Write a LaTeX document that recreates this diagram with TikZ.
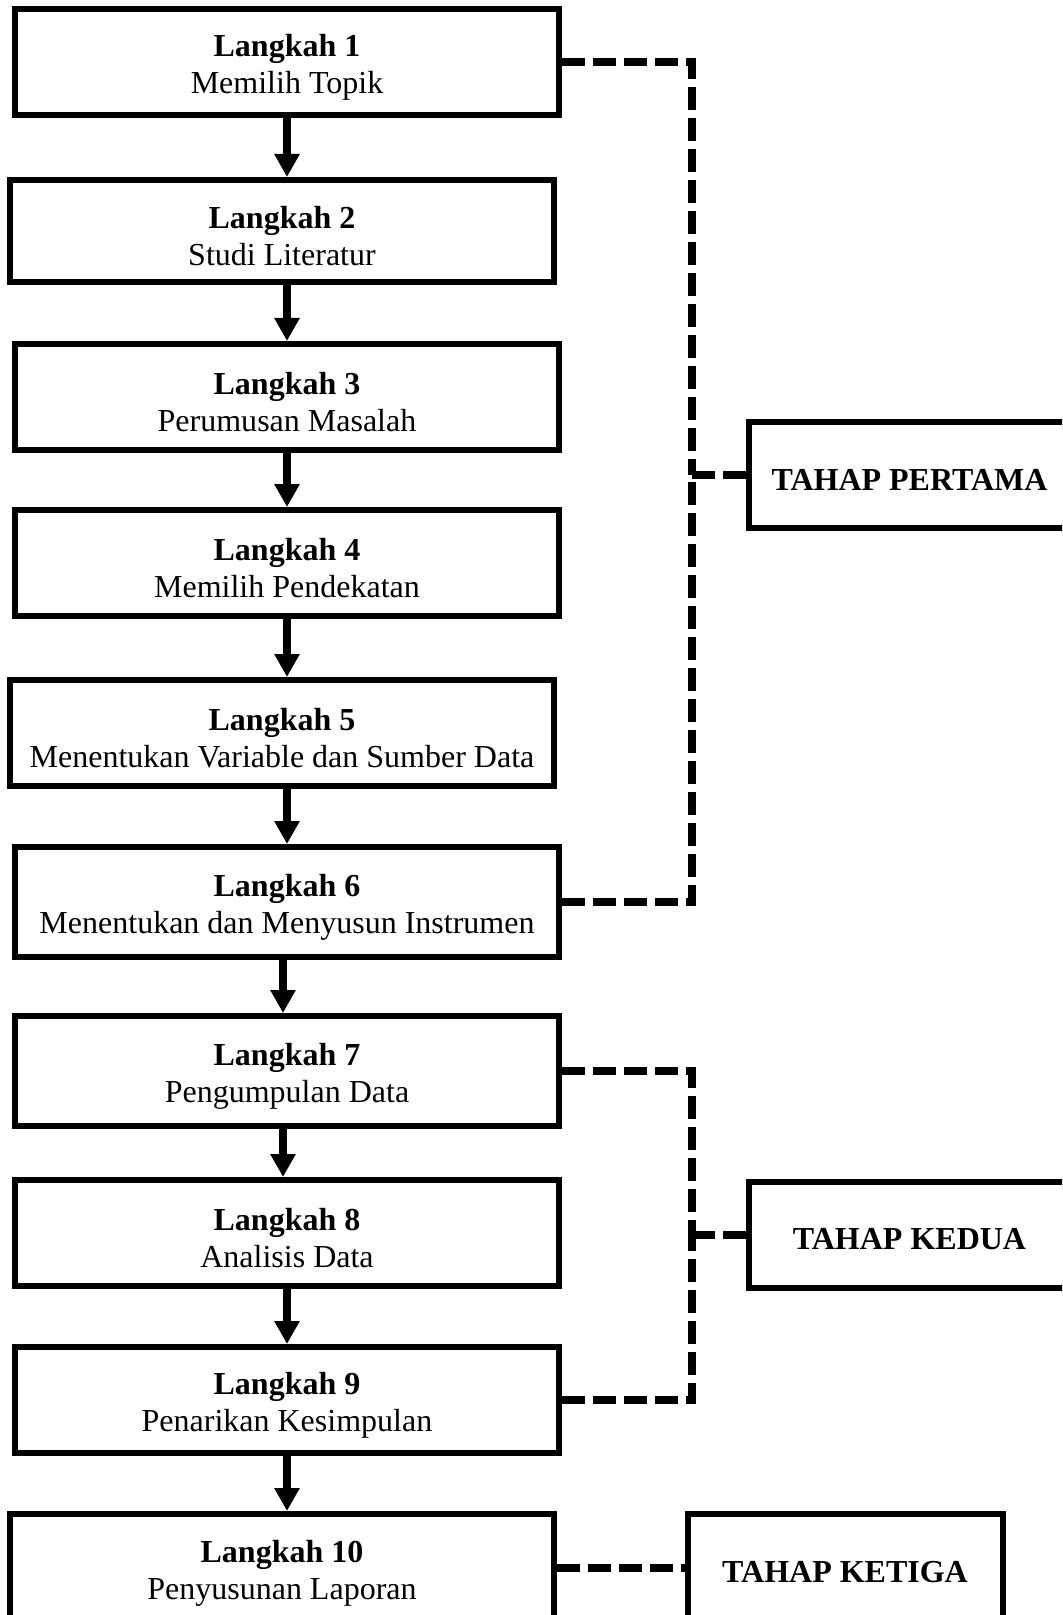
\documentclass[tikz,border=0pt]{standalone}
\usepackage{fontspec}
\setmainfont{Liberation Serif}
\usetikzlibrary{arrows.meta}
\newcommand{\langkah}[2]{\textbf{Langkah #1}\rule{0pt}{16.5pt}\\#2}

\begin{document}
\begin{tikzpicture}[x=0.5pt,y=-0.5pt,
	box/.style={draw,line width=3pt,minimum width=272pt,minimum height=53pt,inner sep=0pt,align=center,font=\fontsize{16}{18.5}\selectfont},
	tahap/.style={draw,line width=3pt,minimum height=53pt,inner sep=0pt,text height=15pt,font=\bfseries\fontsize{16}{18.5}\selectfont},
	flow/.style={-{Triangle[width=12pt,length=11.5pt]},line width=4pt},
	link/.style={line width=4pt,dash pattern=on 11.5pt off 4pt}]
			\clip (0,0) rectangle (1062,1615);
			\node[box] (s1) at (287,62) {\langkah{1}{Memilih Topik}};
			\node[box,minimum height=51pt] (s2) at (282,231) {\langkah{2}{Studi Literatur}};
			\node[box] (s3) at (287,397) {\langkah{3}{Perumusan Masalah}};
			\node[box] (s4) at (287,563) {\langkah{4}{Memilih Pendekatan}};
			\node[box] (s5) at (282,733) {\langkah{5}{Menentukan Variable dan Sumber Data}};
			\node[box,minimum height=55pt] (s6) at (287,902) {\langkah{6}{Menentukan dan Menyusun Instrumen}};
			\node[box,minimum height=55pt] (s7) at (287,1071) {\langkah{7}{Pengumpulan Data}};
			\node[box] (s8) at (287,1233) {\langkah{8}{Analisis Data}};
			\node[box] (s9) at (287,1400) {\langkah{9}{Penarikan Kesimpulan}};
			\node[box,minimum height=54pt] (s10) at (282,1568) {\langkah{10}{Penyusunan Laporan}};
			\node[tahap,minimum width=160.5pt] (t1) at (909.5,475) {TAHAP PERTAMA};
			\node[tahap,minimum width=160.5pt] (t2) at (909.5,1235) {TAHAP KEDUA};
			\node[tahap,minimum width=157.5pt,minimum height=54pt] (t3) at (845,1568) {TAHAP KETIGA};
			\draw[flow] (s1.south) -- (s1.south |- s2.north);
			\draw[flow] (s3.north |- s2.south) -- (s3.north);
			\draw[flow] (s3.south) -- (s3.south |- s4.north);
			\draw[flow] (s4.south) -- (s4.south |- s5.north);
			\draw[flow] (s6.north |- s5.south) -- (s6.north);
			\draw[flow] ([xshift=-2pt]s6.south) -- ([xshift=-2pt]s6.south |- s7.north);
			\draw[flow] ([xshift=-2pt]s7.south) -- ([xshift=-2pt]s7.south |- s8.north);
			\draw[flow] (s8.south) -- (s8.south |- s9.north);
			\draw[flow] (s9.south) -- (s9.south |- s10.north);
			\coordinate (colA) at (692,475);
			\coordinate (colB) at (692,1235);
			\draw[link] (s1.east) -| (colA);
			\draw[link] (s6.east) -| (colA);
			\draw[link] (t1.west) -- (colA);
			\draw[link] (s7.east) -| (colB);
			\draw[link] (s9.east) -| (colB);
			\draw[link] (t2.west) -- (colB);
			\draw[link] (s10.east) -- (t3.west);
		\end{tikzpicture}
\end{document}
